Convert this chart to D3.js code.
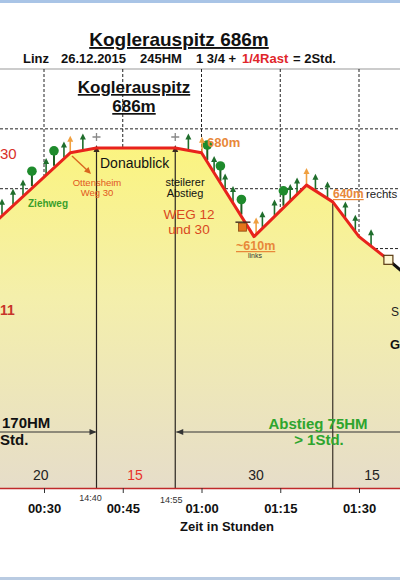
<!DOCTYPE html>
<html><head><meta charset="utf-8">
<script src="https://cdn.jsdelivr.net/npm/d3@7"></script>
<style>html,body{margin:0;padding:0;background:#fff;overflow:hidden}svg{display:block}text{font-family:"Liberation Sans",Arial,sans-serif}</style>
</head><body><svg id="c" width="400" height="580"></svg>
<script>
// ---- data ----
const times = [15, 35, 40, 55, 60, 70, 80, 85, 90, 95.6, 100];        // minutes
const elevations = [599, 680, 684, 684, 680, 610, 653, 639, 610, 590.6, 574]; // m
const redEnd = 95.6;
const tickMinutes = [30, 45, 60, 75, 90];
const tickLabels = ["00:30", "00:45", "01:00", "01:15", "01:30"];
const gridElevations = [700, 650, 600, 550, 500, 450];
const greenArrowTimes = [22.0, 24.1, 26.0, 30.4, 33.8, 37.4, 57.5, 62.4, 64.5, 66.0, 71.6, 73.9, 76.9, 78.2, 81.7, 84.0, 87.4, 89.3, 92.3];
const orangeArrowTimes = [35.0, 60.1, 70.4, 80.0];
const treeTimes = [27.7, 31.9, 61.1, 63.6, 67.6, 75.6];
const dropTimes = [40, 55];
const dropTimeRight = 85;
const clockLabels = ["14:40", "14:55"];
const segmentTimes = [29.4, 47.35, 70.4, 92.5];
const segmentLabels = ["20", "15", "30", "15"];
const segmentRed = [false, true, false, false];
const benchTime = 67.8;

// ---- scales ----
const svg = d3.select("#c");
const x = d3.scaleLinear().domain([30, 90]).range([44, 359]);
const y = d3.scaleLinear().domain([400, 750]).range([488, 69]);
const elevAt = d3.scaleLinear().domain(times).range(elevations);
const profile = times.map((t, i) => ({t, e: elevations[i]}));

// strips
svg.append("rect").attr("x",0).attr("y",0).attr("width",400).attr("height",3).attr("fill","#a9c4e6");
svg.append("rect").attr("x",0).attr("y",577).attr("width",400).attr("height",3).attr("fill","#b9cbe2");

// gradient
const defs = svg.append("defs");
const g = defs.append("linearGradient").attr("id","fillg")
  .attr("gradientUnits","userSpaceOnUse").attr("x1",0).attr("y1",140).attr("x2",0).attr("y2",488);
g.append("stop").attr("offset","0").attr("stop-color","#fbf47e");
g.append("stop").attr("offset","0.45").attr("stop-color","#f4efab");
g.append("stop").attr("offset","1").attr("stop-color","#e6ddc9");

// titles
svg.append("text").attr("x",179).attr("y",46).attr("text-anchor","middle").attr("font-size",19).attr("font-weight","bold")
  .attr("text-decoration","underline").attr("fill","#111").text("Koglerauspitz 686m");
const sub = svg.append("text").attr("y",63).attr("font-size",13).attr("font-weight","bold").attr("fill","#111");
[["Linz",23,"#111"],["26.12.2015",61,"#111"],["245HM",140,"#111"],["1 3/4 +",196,"#111"],["1/4Rast",242,"#e0262a"],["= 2Std.",293,"#111"]]
  .forEach(([s,px,c]) => sub.append("tspan").attr("x",px).attr("fill",c).text(s));

// plot top border
svg.append("line").attr("x1",0).attr("x2",400).attr("y1",y(750)).attr("y2",y(750)).attr("stroke","#999").attr("stroke-width",1);

// grid
svg.append("g").selectAll("line").data(tickMinutes).join("line")
  .attr("x1",d=>x(d)).attr("x2",d=>x(d)).attr("y1",y(750)).attr("y2",y(400))
  .attr("stroke","#222").attr("stroke-width",1).attr("stroke-dasharray","3,2");
svg.append("g").selectAll("line").data(gridElevations).join("line")
  .attr("x1",0).attr("x2",400).attr("y1",d=>y(d)).attr("y2",d=>y(d))
  .attr("stroke","#222").attr("stroke-width",1).attr("stroke-dasharray","3,2");

// area
svg.append("path").datum(profile)
  .attr("d", d3.area().x(d=>x(d.t)).y0(y(400)).y1(d=>y(d.e)))
  .attr("fill","url(#fillg)");

// inner title
svg.append("text").attr("x",134).attr("y",93).attr("text-anchor","middle").attr("font-size",17).attr("font-weight","bold")
  .attr("text-decoration","underline").attr("fill","#111").text("Koglerauspitz");
svg.append("text").attr("x",134).attr("y",112).attr("text-anchor","middle").attr("font-size",17).attr("font-weight","bold")
  .attr("text-decoration","underline").attr("fill","#111").text("686m");

// drop lines
dropTimes.forEach(t => {
  const px = x(t), py = y(elevAt(t));
  svg.append("line").attr("x1",px).attr("x2",px).attr("y1",py).attr("y2",y(400)).attr("stroke","#2a2520").attr("stroke-width",1.2);
  svg.append("path").attr("d",`M${px},${py-3}L${px-3},${py+4}L${px+3},${py+4}Z`).attr("fill","#3a2a20");
  svg.append("path").attr("d",`M${px-4},${py-11}H${px+4}M${px},${py-15}V${py-7}`).attr("stroke","#888").attr("stroke-width",1.3);
});
{
  const px = x(dropTimeRight), py = y(elevAt(dropTimeRight));
  svg.append("line").attr("x1",px).attr("x2",px).attr("y1",py).attr("y2",y(400)).attr("stroke","#3a3228").attr("stroke-width",1.2);
}

// horizontal duration arrows
svg.append("line").attr("x1",0).attr("x2",x(dropTimes[0])-1).attr("y1",432).attr("y2",432).attr("stroke","#333").attr("stroke-width",1);
svg.append("path").attr("d",`M${x(dropTimes[0])},432l-7,-3v6Z`).attr("fill","#333");
svg.append("line").attr("x1",x(dropTimes[1])+1).attr("x2",400).attr("y1",432).attr("y2",432).attr("stroke","#333").attr("stroke-width",1);
svg.append("path").attr("d",`M${x(dropTimes[1])+1},432l7,-3v6Z`).attr("fill","#333");

// trees
const treeG = svg.append("g");
treeTimes.forEach(t => {
  const px = x(t), py = y(elevAt(t));
  treeG.append("line").attr("x1",px).attr("x2",px).attr("y1",py-2).attr("y2",py-16).attr("stroke","#1d5f22").attr("stroke-width",2);
  treeG.append("circle").attr("cx",px).attr("cy",py-17).attr("r",4.8).attr("fill","#1e8b2c");
});
// arrows
function arrow(t, col) {
  const px = x(t), py = y(elevAt(t)) - 1;
  svg.append("line").attr("x1",px).attr("x2",px).attr("y1",py).attr("y2",py-12).attr("stroke",col).attr("stroke-width",1.6);
  svg.append("path").attr("d",`M${px},${py-16}L${px-3},${py-10}L${px+3},${py-10}Z`).attr("fill",col);
}
greenArrowTimes.forEach(t => arrow(t, "#1f6e2c"));
orangeArrowTimes.forEach(t => arrow(t, "#f0a040"));

// profile lines
const line = d3.line().x(d=>x(d.t)).y(d=>y(d.e));
const redPart = profile.filter(d => d.t <= redEnd);
const blackPart = profile.filter(d => d.t >= redEnd);
svg.append("path").datum(blackPart).attr("d",line).attr("fill","none").attr("stroke","#111").attr("stroke-width",3);
svg.append("path").datum(redPart).attr("d",line).attr("fill","none").attr("stroke","#e8231c").attr("stroke-width",3).attr("stroke-linejoin","round");
svg.append("rect").attr("x",x(redEnd)-4.5).attr("y",y(elevAt(redEnd))-4.5).attr("width",9).attr("height",9)
  .attr("fill","#fdf7d2").attr("stroke","#5a3a12").attr("stroke-width",1.2);

// bench
{
  const px = x(benchTime), py = y(elevAt(benchTime));
  svg.append("rect").attr("x",px-4).attr("y",py+5).attr("width",8).attr("height",8).attr("fill","#e3741c").attr("stroke","#8a4a12").attr("stroke-width",0.8);
  svg.append("line").attr("x1",px-7).attr("x2",px+8).attr("y1",py+4).attr("y2",py+4).attr("stroke","#402a20").attr("stroke-width",1.4);
}

// orange pointer arrow to Ottensheim
svg.append("line").attr("x1",72).attr("y1",156).attr("x2",88).attr("y2",171).attr("stroke","#d9661e").attr("stroke-width",1.4);
svg.append("path").attr("d","M91,174L84,171.5L88.5,167Z").attr("fill","#d9661e");

// annotations
function txt(s, px, py, opts) {
  const t = svg.append("text").attr("x",px).attr("y",py).text(s);
  Object.entries(opts).forEach(([k,v]) => t.attr(k,v));
  return t;
}
txt("30", 0, 159, {"font-size":15,"fill":"#d9302a"});
txt("11", 0, 315, {"font-size":14,"font-weight":"bold","fill":"#c8342a"});
txt("Ziehweg", 28, 207, {"font-size":10,"font-weight":"bold","fill":"#3a9f2a"});
txt("Ottensheim", 97, 186, {"text-anchor":"middle","font-size":9.5,"fill":"#e2561e"});
txt("Weg 30", 97, 196, {"text-anchor":"middle","font-size":9.5,"fill":"#e2561e"});
txt("Donaublick", 100, 168, {"font-size":14,"fill":"#111"});
txt("steilerer", 185, 186, {"text-anchor":"middle","font-size":11,"fill":"#111"});
txt("Abstieg", 185, 197, {"text-anchor":"middle","font-size":11,"fill":"#111"});
txt("WEG 12", 189, 219, {"text-anchor":"middle","font-size":13.5,"fill":"#d9481e"});
txt("und  30", 189, 234, {"text-anchor":"middle","font-size":13.5,"fill":"#d9481e"});
txt("680m", 207, 147, {"font-size":13,"font-weight":"bold","fill":"#e8883a"});
txt("~610m", 236, 250, {"font-size":12.5,"font-weight":"bold","fill":"#e8883a","text-decoration":"underline"});
txt("links", 255, 258, {"text-anchor":"middle","font-size":7,"fill":"#333"});
txt("640m", 333, 198, {"font-size":12,"font-weight":"bold","fill":"#e8883a","text-decoration":"underline"});
txt("rechts", 366, 198, {"font-size":11.5,"fill":"#222"});
txt("S", 391, 316, {"font-size":12,"fill":"#222"});
txt("G", 390, 349, {"font-size":13,"font-weight":"bold","fill":"#111"});
txt("170HM", 2, 428, {"font-size":15,"font-weight":"bold","fill":"#111"});
txt("Std.", 0, 445, {"font-size":15,"font-weight":"bold","fill":"#111"});
txt("Abstieg 75HM", 318, 429, {"text-anchor":"middle","font-size":15,"font-weight":"bold","fill":"#2ea52e"});
txt("> 1Std.", 319, 445, {"text-anchor":"middle","font-size":15,"font-weight":"bold","fill":"#2ea52e"});

svg.append("g").selectAll("text").data(segmentLabels).join("text")
  .attr("x",(d,i)=>x(segmentTimes[i])).attr("y",480).attr("text-anchor","middle").attr("font-size",14)
  .attr("fill",(d,i)=>segmentRed[i] ? "#e8332a" : "#222").text(d=>d);

// x axis
const axis = svg.append("g").attr("transform",`translate(0,${y(400)})`)
  .call(d3.axisBottom(x).tickValues(tickMinutes).tickFormat((d,i)=>tickLabels[i]).tickSize(5).tickPadding(11));
axis.select(".domain").attr("d","M0,0.5H400").attr("stroke","#c0282a").attr("stroke-width",1.6);
axis.selectAll(".tick line").attr("stroke","#333");
axis.selectAll(".tick text").attr("font-size",13).attr("font-weight","bold").attr("fill","#111")
  .attr("font-family","Liberation Sans, Arial, sans-serif");

svg.append("g").selectAll("text").data(clockLabels).join("text")
  .attr("x",(d,i)=>x(dropTimes[i])-6+ i*2).attr("y",(d,i)=>501+i*2).attr("text-anchor","middle").attr("font-size",9).attr("fill","#333").text(d=>d);

txt("Zeit in Stunden", 227, 531, {"text-anchor":"middle","font-size":13,"font-weight":"bold","fill":"#111"});
</script></body></html>
